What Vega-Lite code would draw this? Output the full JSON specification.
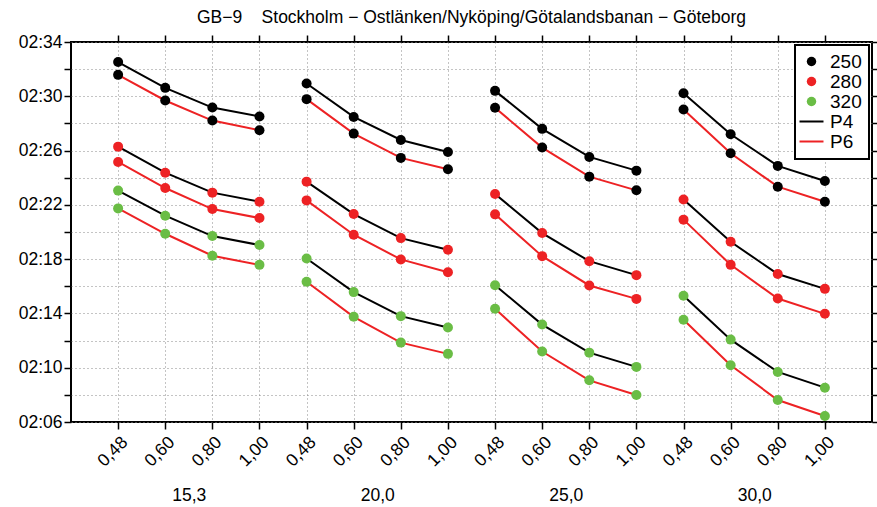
{
  "$schema": "https://vega.github.io/schema/vega-lite/v6.json",
  "width": 801,
  "height": 380,
  "autosize": "none",
  "padding": {"left": 71, "top": 42, "right": 5, "bottom": 85},
  "background": "white",
  "title": {"text": "GB−9\u00a0\u00a0\u00a0\u00a0Stockholm − Ostlänken/Nyköping/Götalandsbanan − Göteborg", "font": "Liberation Sans", "fontSize": 17.5, "fontWeight": "normal", "color": "black", "anchor": "middle", "offset": 7},
  "data": {"values": [
    {"g":"15,3","x":1,"s":"250","p":"P4","t":152.52},{"g":"15,3","x":2,"s":"250","p":"P4","t":150.62},{"g":"15,3","x":3,"s":"250","p":"P4","t":149.17},{"g":"15,3","x":4,"s":"250","p":"P4","t":148.51},
    {"g":"15,3","x":1,"s":"250","p":"P6","t":151.58},{"g":"15,3","x":2,"s":"250","p":"P6","t":149.69},{"g":"15,3","x":3,"s":"250","p":"P6","t":148.21},{"g":"15,3","x":4,"s":"250","p":"P6","t":147.50},
    {"g":"15,3","x":1,"s":"280","p":"P4","t":146.29},{"g":"15,3","x":2,"s":"280","p":"P4","t":144.37},{"g":"15,3","x":3,"s":"280","p":"P4","t":142.90},{"g":"15,3","x":4,"s":"280","p":"P4","t":142.23},
    {"g":"15,3","x":1,"s":"280","p":"P6","t":145.16},{"g":"15,3","x":2,"s":"280","p":"P6","t":143.24},{"g":"15,3","x":3,"s":"280","p":"P6","t":141.69},{"g":"15,3","x":4,"s":"280","p":"P6","t":141.03},
    {"g":"15,3","x":1,"s":"320","p":"P4","t":143.05},{"g":"15,3","x":2,"s":"320","p":"P4","t":141.20},{"g":"15,3","x":3,"s":"320","p":"P4","t":139.70},{"g":"15,3","x":4,"s":"320","p":"P4","t":139.04},
    {"g":"15,3","x":1,"s":"320","p":"P6","t":141.74},{"g":"15,3","x":2,"s":"320","p":"P6","t":139.87},{"g":"15,3","x":3,"s":"320","p":"P6","t":138.25},{"g":"15,3","x":4,"s":"320","p":"P6","t":137.58},

    {"g":"20,0","x":5,"s":"250","p":"P4","t":150.94},{"g":"20,0","x":6,"s":"250","p":"P4","t":148.48},{"g":"20,0","x":7,"s":"250","p":"P4","t":146.78},{"g":"20,0","x":8,"s":"250","p":"P4","t":145.90},
    {"g":"20,0","x":5,"s":"250","p":"P6","t":149.79},{"g":"20,0","x":6,"s":"250","p":"P6","t":147.25},{"g":"20,0","x":7,"s":"250","p":"P6","t":145.46},{"g":"20,0","x":8,"s":"250","p":"P6","t":144.62},
    {"g":"20,0","x":5,"s":"280","p":"P4","t":143.71},{"g":"20,0","x":6,"s":"280","p":"P4","t":141.32},{"g":"20,0","x":7,"s":"280","p":"P4","t":139.55},{"g":"20,0","x":8,"s":"280","p":"P4","t":138.69},
    {"g":"20,0","x":5,"s":"280","p":"P6","t":142.33},{"g":"20,0","x":6,"s":"280","p":"P6","t":139.80},{"g":"20,0","x":7,"s":"280","p":"P6","t":137.98},{"g":"20,0","x":8,"s":"280","p":"P6","t":137.04},
    {"g":"20,0","x":5,"s":"320","p":"P4","t":138.05},{"g":"20,0","x":6,"s":"320","p":"P4","t":135.57},{"g":"20,0","x":7,"s":"320","p":"P4","t":133.80},{"g":"20,0","x":8,"s":"320","p":"P4","t":132.96},
    {"g":"20,0","x":5,"s":"320","p":"P6","t":136.33},{"g":"20,0","x":6,"s":"320","p":"P6","t":133.75},{"g":"20,0","x":7,"s":"320","p":"P6","t":131.85},{"g":"20,0","x":8,"s":"320","p":"P6","t":131.02},

    {"g":"25,0","x":9,"s":"250","p":"P4","t":150.40},{"g":"25,0","x":10,"s":"250","p":"P4","t":147.60},{"g":"25,0","x":11,"s":"250","p":"P4","t":145.53},{"g":"25,0","x":12,"s":"250","p":"P4","t":144.52},
    {"g":"25,0","x":9,"s":"250","p":"P6","t":149.15},{"g":"25,0","x":10,"s":"250","p":"P6","t":146.22},{"g":"25,0","x":11,"s":"250","p":"P6","t":144.08},{"g":"25,0","x":12,"s":"250","p":"P6","t":143.07},
    {"g":"25,0","x":9,"s":"280","p":"P4","t":142.80},{"g":"25,0","x":10,"s":"280","p":"P4","t":139.92},{"g":"25,0","x":11,"s":"280","p":"P4","t":137.85},{"g":"25,0","x":12,"s":"280","p":"P4","t":136.82},
    {"g":"25,0","x":9,"s":"280","p":"P6","t":141.30},{"g":"25,0","x":10,"s":"280","p":"P6","t":138.22},{"g":"25,0","x":11,"s":"280","p":"P6","t":136.06},{"g":"25,0","x":12,"s":"280","p":"P6","t":135.07},
    {"g":"25,0","x":9,"s":"320","p":"P4","t":136.08},{"g":"25,0","x":10,"s":"320","p":"P4","t":133.18},{"g":"25,0","x":11,"s":"320","p":"P4","t":131.11},{"g":"25,0","x":12,"s":"320","p":"P4","t":130.06},
    {"g":"25,0","x":9,"s":"320","p":"P6","t":134.34},{"g":"25,0","x":10,"s":"320","p":"P6","t":131.19},{"g":"25,0","x":11,"s":"320","p":"P6","t":129.07},{"g":"25,0","x":12,"s":"320","p":"P6","t":127.99},

    {"g":"30,0","x":13,"s":"250","p":"P4","t":150.23},{"g":"30,0","x":14,"s":"250","p":"P4","t":147.20},{"g":"30,0","x":15,"s":"250","p":"P4","t":144.87},{"g":"30,0","x":16,"s":"250","p":"P4","t":143.76},
    {"g":"30,0","x":13,"s":"250","p":"P6","t":149.02},{"g":"30,0","x":14,"s":"250","p":"P6","t":145.80},{"g":"30,0","x":15,"s":"250","p":"P6","t":143.34},{"g":"30,0","x":16,"s":"250","p":"P6","t":142.23},
    {"g":"30,0","x":13,"s":"280","p":"P4","t":142.40},{"g":"30,0","x":14,"s":"280","p":"P4","t":139.28},{"g":"30,0","x":15,"s":"280","p":"P4","t":136.90},{"g":"30,0","x":16,"s":"280","p":"P4","t":135.81},
    {"g":"30,0","x":13,"s":"280","p":"P6","t":140.91},{"g":"30,0","x":14,"s":"280","p":"P6","t":137.58},{"g":"30,0","x":15,"s":"280","p":"P6","t":135.10},{"g":"30,0","x":16,"s":"280","p":"P6","t":133.97},
    {"g":"30,0","x":13,"s":"320","p":"P4","t":135.30},{"g":"30,0","x":14,"s":"320","p":"P4","t":132.07},{"g":"30,0","x":15,"s":"320","p":"P4","t":129.69},{"g":"30,0","x":16,"s":"320","p":"P4","t":128.53},
    {"g":"30,0","x":13,"s":"320","p":"P6","t":133.53},{"g":"30,0","x":14,"s":"320","p":"P6","t":130.18},{"g":"30,0","x":15,"s":"320","p":"P6","t":127.62},{"g":"30,0","x":16,"s":"320","p":"P6","t":126.44}
  ]},
  "resolve": {"axis": {"x": "independent", "y": "independent"}},
  "layer": [
    {
      "mark": {"type": "line", "strokeWidth": 2},
      "encoding": {
        "x": {"field": "x", "type": "quantitative", "scale": {"domain": [0, 17], "nice": false, "zero": false},
              "axis": {"orient": "bottom", "title": null, "values": [1,2,3,4,5,6,7,8,9,10,11,12,13,14,15,16],
                       "labelExpr": "['0,48','0,60','0,80','1,00'][(datum.value-1)%4]", "labelAngle": -45, "labelOverlap": false, "labelFlush": false,
                       "grid": true, "gridDash": [1, 3], "gridColor": "#888888", "gridWidth": 1, "tickSize": 7, "labelPadding": 4}},
        "y": {"field": "t", "type": "quantitative", "scale": {"domain": [126, 154], "nice": false, "zero": false},
              "axis": {"orient": "left", "title": null, "values": [126,128,130,132,134,136,138,140,142,144,146,148,150,152,154],
                       "labelExpr": "(datum.value-126)%4==0 ? '0' + floor(datum.value/60) + ':' + (datum.value%60<10 ? '0' : '') + (datum.value%60) : ''",
                       "labelOverlap": false, "labelFlush": false,
                       "grid": true, "gridDash": [1, 3], "gridColor": "#888888", "gridWidth": 1, "tickSize": 7, "labelPadding": 2}},
        "color": {"field": "p", "type": "nominal",
                  "scale": {"domain": ["250","280","320","P4","P6"], "range": ["#000000","#ED2224","#6ABD45","#000000","#ED2224"]},
                  "legend": {"title": null, "orient": "top-right", "offset": 3, "padding": 7, "strokeColor": "black", "fillColor": "white",
                             "labelFont": "Liberation Sans", "labelFontSize": 19, "labelColor": "black", "symbolSize": 576, "rowPadding": 0, "labelOffset": 9,
                             "encode": {
                               "legend": {"update": {"strokeWidth": {"value": 2}}},
                               "symbols": {"update": {
                                 "shape": {"signal": "datum.label=='P4'||datum.label=='P6' ? 'stroke' : 'circle'"},
                                 "size": {"signal": "datum.label=='P4'||datum.label=='P6' ? 576 : 90"},
                                 "fill": {"signal": "datum.label=='P4'||datum.label=='P6' ? 'transparent' : scale('color', datum.value)"},
                                 "stroke": {"signal": "scale('color', datum.value)"},
                                 "strokeWidth": {"signal": "datum.label=='P4'||datum.label=='P6' ? 2 : 0"},
                                 "opacity": {"value": 1}
                               }}
                             }}},
        "detail": [{"field": "g"}, {"field": "s"}]
      }
    },
    {
      "mark": {"type": "circle", "size": 100, "opacity": 1},
      "encoding": {
        "x": {"field": "x", "type": "quantitative", "scale": {"domain": [0, 17], "nice": false, "zero": false},
              "axis": {"orient": "top", "title": null, "values": [1,2,3,4,5,6,7,8,9,10,11,12,13,14,15,16], "labels": false, "grid": false, "tickSize": 7}},
        "y": {"field": "t", "type": "quantitative", "scale": {"domain": [126, 154], "nice": false, "zero": false},
              "axis": {"orient": "right", "title": null, "values": [126,128,130,132,134,136,138,140,142,144,146,148,150,152,154], "labels": false, "grid": false, "tickSize": 7}},
        "color": {"field": "s", "type": "nominal",
                  "scale": {"domain": ["250","280","320","P4","P6"], "range": ["#000000","#ED2224","#6ABD45","#000000","#ED2224"]},
                  "legend": {"title": null, "orient": "top-right", "offset": 3, "padding": 7, "strokeColor": "black", "fillColor": "white",
                             "labelFont": "Liberation Sans", "labelFontSize": 19, "labelColor": "black", "symbolSize": 576, "rowPadding": 0, "labelOffset": 9,
                             "encode": {
                               "legend": {"update": {"strokeWidth": {"value": 2}}},
                               "symbols": {"update": {
                                 "shape": {"signal": "datum.label=='P4'||datum.label=='P6' ? 'stroke' : 'circle'"},
                                 "size": {"signal": "datum.label=='P4'||datum.label=='P6' ? 576 : 90"},
                                 "fill": {"signal": "datum.label=='P4'||datum.label=='P6' ? 'transparent' : scale('color', datum.value)"},
                                 "stroke": {"signal": "scale('color', datum.value)"},
                                 "strokeWidth": {"signal": "datum.label=='P4'||datum.label=='P6' ? 2 : 0"},
                                 "opacity": {"value": 1}
                               }}
                             }}}
      }
    },
    {
      "mark": {"type": "point", "opacity": 0},
      "encoding": {
        "x": {"field": "x", "type": "quantitative", "scale": {"domain": [0, 17], "nice": false, "zero": false},
              "axis": {"orient": "bottom", "title": null, "values": [2.5, 6.5, 10.5, 14.5],
                       "labelExpr": "['15,3','20,0','25,0','30,0'][floor((datum.value-1)/4)]", "labelAngle": 0, "labelOverlap": false, "labelFlush": false,
                       "ticks": false, "grid": false, "labelPadding": 64}},
        "y": {"field": "t", "type": "quantitative", "scale": {"domain": [126, 154], "nice": false, "zero": false}, "axis": null}
      }
    }
  ],
  "config": {
    "view": {"stroke": "black", "strokeWidth": 2},
    "axis": {"domain": false, "labelFont": "Liberation Sans", "labelFontSize": 17.5, "labelColor": "black", "tickColor": "black", "tickWidth": 1.5}
  }
}
